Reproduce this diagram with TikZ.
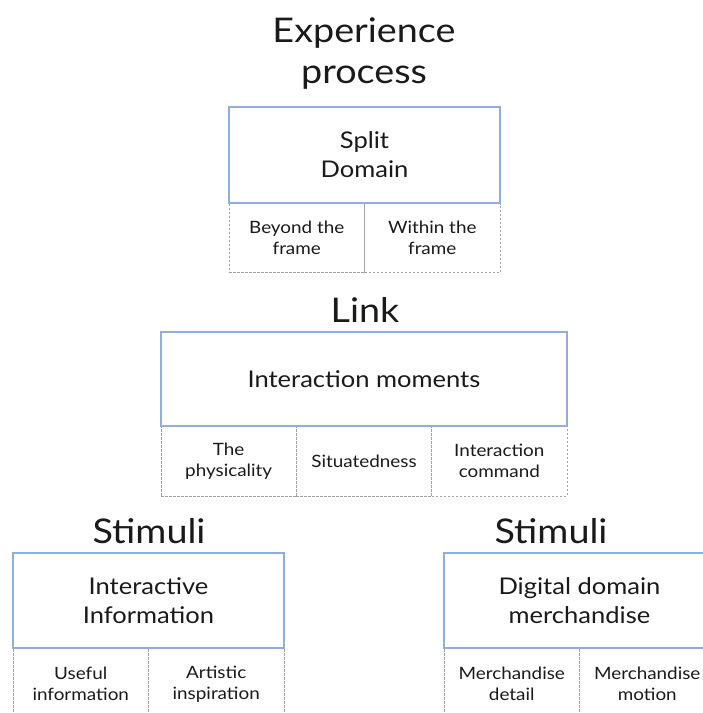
\documentclass[tikz,border=0pt]{standalone}
\usepackage{fontspec}
\setmainfont{Lato}[FakeStretch=1.11]
\definecolor{boxblue}{HTML}{8FAEDA}
\definecolor{dashgrey}{HTML}{A3A3A3}
\definecolor{inktext}{HTML}{1A1A1A}
\tikzset{
  heading/.style={text=inktext, align=center, font=\fontsize{34}{41}\selectfont, inner sep=0pt},
  mainbox/.style={draw=boxblue, line width=1.1pt, fill=white, text=inktext, align=center,
                  font=\fontsize{23}{29}\selectfont, inner sep=0pt},
  cellbox/.style={draw=dashgrey, dashed, dash pattern=on 2.5pt off 1.5pt, line width=0.9pt,
                  text=inktext, align=center, font=\fontsize{17}{21}\selectfont, inner sep=0pt}
}
\begin{document}
\begin{tikzpicture}[x=1pt,y=-1pt]
\useasboundingbox (0,0) rectangle (703,713);
\clip (0,0) rectangle (703,713);

% top level: experience process
\node[heading] (exptitle) at (364,54) {Experience\\process};
\node[cellbox, minimum width=135.5pt, minimum height=69pt] (beyond) at (296.75,238) {Beyond the\\frame};
\node[cellbox, minimum width=135.5pt, minimum height=69pt] (within) at (432.25,238) {Within the\\frame};
\node[mainbox, minimum width=271pt, minimum height=96pt] (split) at (364.5,155) {Split\\Domain};

% middle level: link
\node[heading] (linktitle) at (365,310) {Link};
\node[cellbox, minimum width=135.33pt, minimum height=70pt] (phys) at (228.67,461) {The\\physicality};
\node[cellbox, minimum width=135.33pt, minimum height=70pt] (situ) at (364,461) {Situatedness};
\node[cellbox, minimum width=135.33pt, minimum height=70pt] (command) at (499.33,461) {Interaction\\command};
\node[mainbox, minimum width=406pt, minimum height=94pt] (moments) at (364,379) {Interaction moments};

% bottom level, left: stimuli
\node[heading] (stimleft) at (149,531) {Stimuli};
\node[cellbox, minimum width=135.5pt, minimum height=72pt] (useful) at (80.75,684) {Useful\\information};
\node[cellbox, minimum width=135.5pt, minimum height=72pt] (artistic) at (216.25,684) {Artistic\\inspiration};
\node[mainbox, minimum width=271pt, minimum height=95pt] (interinfo) at (148.5,600.5) {Interactive\\Information};

% bottom level, right: stimuli
\node[heading] (stimright) at (551,531) {Stimuli};
\node[cellbox, minimum width=135.5pt, minimum height=72pt] (mdetail) at (511.75,684) {Merchandise\\detail};
\node[cellbox, minimum width=135.5pt, minimum height=72pt] (mmotion) at (647.25,684) {Merchandise\\motion};
\node[mainbox, minimum width=271pt, minimum height=95pt] (digital) at (579.5,600.5) {Digital domain\\merchandise};
\end{tikzpicture}
\end{document}
